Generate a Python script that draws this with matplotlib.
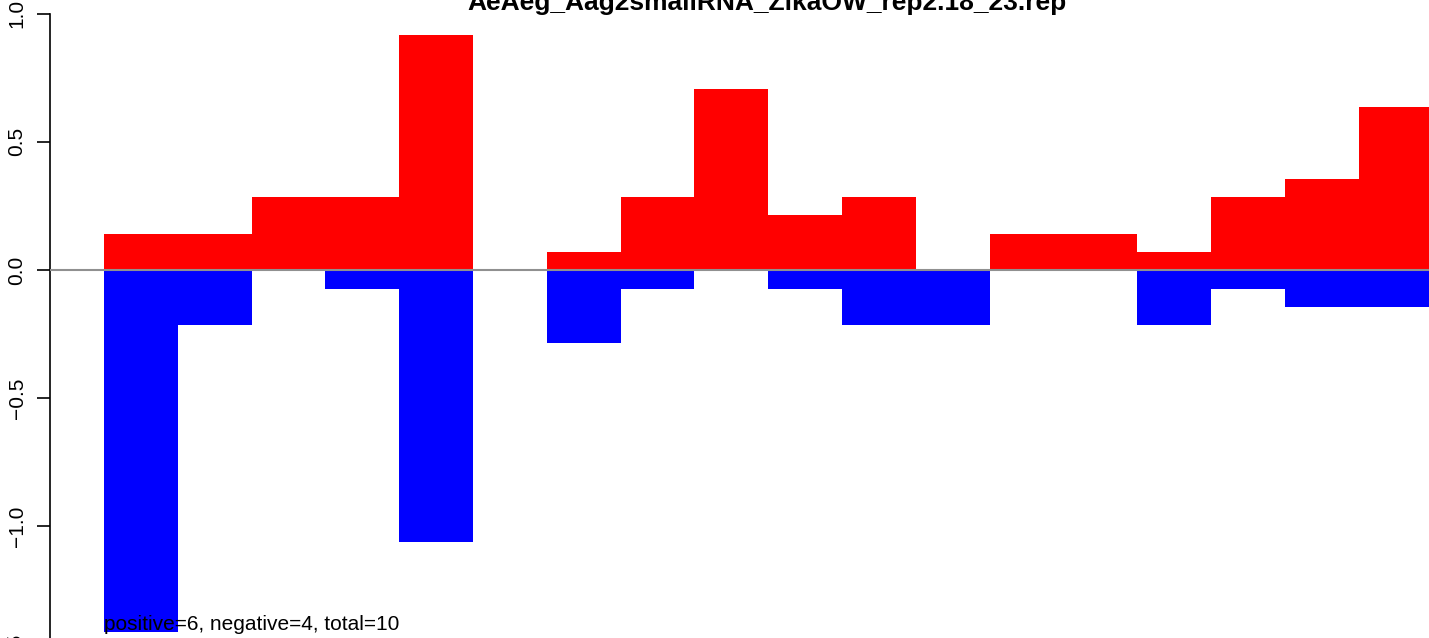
import matplotlib.pyplot as plt

plt.rcParams['font.family'] = ['Liberation Sans', 'DejaVu Sans']

title = 'AeAeg_Aag2smallRNA_ZikaOW_rep2.18_23.rep'
note = 'positive=6, negative=4, total=10'

# one value per bin, 18 bins
positive = [0.14, 0.14, 0.285, 0.285, 0.917, 0.0, 0.07, 0.285, 0.706,
            0.215, 0.285, 0.0, 0.14, 0.14, 0.07, 0.285, 0.355, 0.636]
negative = [-1.411, -0.215, 0.0, -0.074, -1.060, 0.0, -0.285, -0.074, 0.0,
            -0.074, -0.215, -0.215, 0.0, 0.0, -0.215, -0.074, -0.144, -0.144]
yticks = [-1.5, -1.0, -0.5, 0.0, 0.5, 1.0]

W, H = 1429, 638
fig = plt.figure(figsize=(W / 100, H / 100), dpi=100)
ax = fig.add_axes([50 / W, 0, 1 - 50 / W, 1])

pos_x = list(range(len(positive)))
ax.bar(pos_x, positive, width=1.0, align='edge', color='#ff0000', linewidth=0)
ax.bar(pos_x, negative, width=1.0, align='edge', color='#0000ff', linewidth=0)
ax.axhline(0, color='#909090', lw=1.5, zorder=3)

for side in ['top', 'right', 'bottom']:
    ax.spines[side].set_visible(False)
ax.spines['left'].set_bounds(-1.5, 1.0)
ax.spines['left'].set_linewidth(1.2)
ax.set_xticks([])
ax.set_yticks(yticks)
ax.set_yticklabels([f'{v:.1f}'.replace('-', '\u2212') for v in yticks],
                   rotation=90, va='center', fontsize=15)
ax.tick_params(axis='y', length=9.4, width=1.2, pad=7.5)

# limits after ticks, so the ticks don't widen them
bar_w = 73.8
ax.set_xlim((50 - 104) / bar_w, (W - 104) / bar_w)
ax.set_ylim(-(H - 270) / 256.3, 270 / 256.3)

# the -1.5 tick sits just below the picture; only the top of its label shows
lowest = yticks[0]
ax.text(-0.025, lowest, f'{lowest:.1f}'.replace('-', '\u2212'),
        transform=ax.get_yaxis_transform(), rotation=90, fontsize=15,
        ha='center', va='center', clip_on=False)

ax.text(0, -(630 - 270) / 256.3, note, fontsize=15, ha='left', va='baseline')
fig.text(767 / W, 1 - 10 / H, title, fontsize=19, fontweight='bold',
         ha='center', va='baseline')

fig.savefig('out.png', dpi=100)
